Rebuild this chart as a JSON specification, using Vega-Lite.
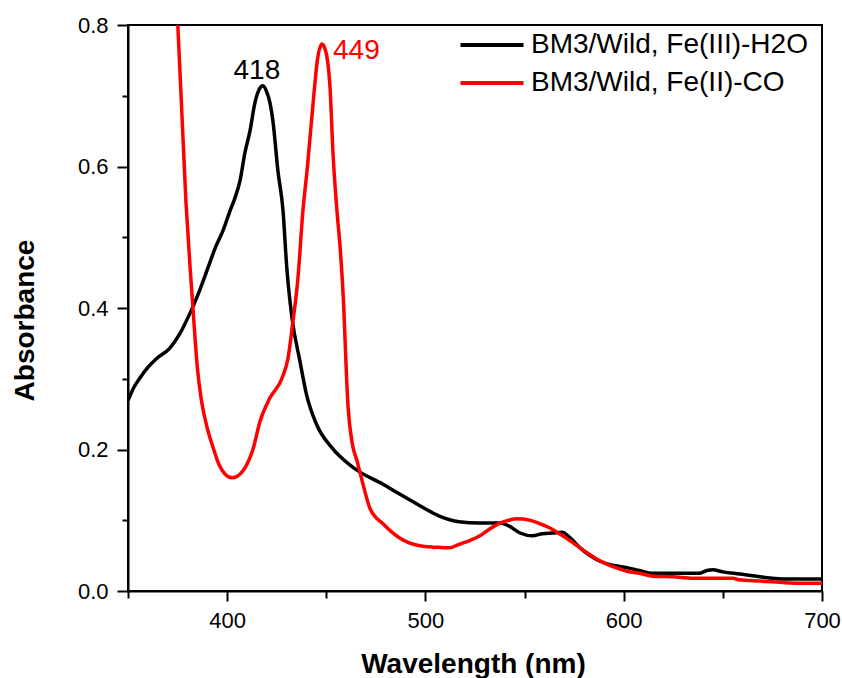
{
  "$schema": "https://vega.github.io/schema/vega-lite/v6.json",
  "width": 694,
  "height": 566,
  "autosize": {"type": "none"},
  "padding": {"left": 128, "top": 25, "right": 20, "bottom": 87},
  "background": "white",
  "config": {
    "view": {"stroke": "black", "strokeWidth": 2},
    "font": "Liberation Sans"
  },
  "datasets": {
    "spectra": [
      {"wl":350,"A":0.269,"series":"BM3/Wild, Fe(III)-H2O"},
      {"wl":353,"A":0.288,"series":"BM3/Wild, Fe(III)-H2O"},
      {"wl":356,"A":0.301,"series":"BM3/Wild, Fe(III)-H2O"},
      {"wl":360,"A":0.316,"series":"BM3/Wild, Fe(III)-H2O"},
      {"wl":364.6,"A":0.329,"series":"BM3/Wild, Fe(III)-H2O"},
      {"wl":371,"A":0.343,"series":"BM3/Wild, Fe(III)-H2O"},
      {"wl":376,"A":0.363,"series":"BM3/Wild, Fe(III)-H2O"},
      {"wl":381,"A":0.391,"series":"BM3/Wild, Fe(III)-H2O"},
      {"wl":386,"A":0.424,"series":"BM3/Wild, Fe(III)-H2O"},
      {"wl":391,"A":0.462,"series":"BM3/Wild, Fe(III)-H2O"},
      {"wl":394,"A":0.485,"series":"BM3/Wild, Fe(III)-H2O"},
      {"wl":398,"A":0.510,"series":"BM3/Wild, Fe(III)-H2O"},
      {"wl":401.4,"A":0.537,"series":"BM3/Wild, Fe(III)-H2O"},
      {"wl":404,"A":0.556,"series":"BM3/Wild, Fe(III)-H2O"},
      {"wl":406.5,"A":0.58,"series":"BM3/Wild, Fe(III)-H2O"},
      {"wl":409,"A":0.62,"series":"BM3/Wild, Fe(III)-H2O"},
      {"wl":411.5,"A":0.65,"series":"BM3/Wild, Fe(III)-H2O"},
      {"wl":414,"A":0.69,"series":"BM3/Wild, Fe(III)-H2O"},
      {"wl":416,"A":0.708,"series":"BM3/Wild, Fe(III)-H2O"},
      {"wl":418,"A":0.714,"series":"BM3/Wild, Fe(III)-H2O"},
      {"wl":420,"A":0.705,"series":"BM3/Wild, Fe(III)-H2O"},
      {"wl":421.6,"A":0.690,"series":"BM3/Wild, Fe(III)-H2O"},
      {"wl":423.1,"A":0.664,"series":"BM3/Wild, Fe(III)-H2O"},
      {"wl":425.6,"A":0.594,"series":"BM3/Wild, Fe(III)-H2O"},
      {"wl":428.2,"A":0.537,"series":"BM3/Wild, Fe(III)-H2O"},
      {"wl":430,"A":0.46,"series":"BM3/Wild, Fe(III)-H2O"},
      {"wl":432.7,"A":0.386,"series":"BM3/Wild, Fe(III)-H2O"},
      {"wl":436.7,"A":0.325,"series":"BM3/Wild, Fe(III)-H2O"},
      {"wl":440,"A":0.278,"series":"BM3/Wild, Fe(III)-H2O"},
      {"wl":445,"A":0.236,"series":"BM3/Wild, Fe(III)-H2O"},
      {"wl":453,"A":0.202,"series":"BM3/Wild, Fe(III)-H2O"},
      {"wl":462,"A":0.178,"series":"BM3/Wild, Fe(III)-H2O"},
      {"wl":467,"A":0.168,"series":"BM3/Wild, Fe(III)-H2O"},
      {"wl":478.6,"A":0.151,"series":"BM3/Wild, Fe(III)-H2O"},
      {"wl":487,"A":0.137,"series":"BM3/Wild, Fe(III)-H2O"},
      {"wl":495.7,"A":0.123,"series":"BM3/Wild, Fe(III)-H2O"},
      {"wl":507,"A":0.106,"series":"BM3/Wild, Fe(III)-H2O"},
      {"wl":517,"A":0.098,"series":"BM3/Wild, Fe(III)-H2O"},
      {"wl":527,"A":0.096,"series":"BM3/Wild, Fe(III)-H2O"},
      {"wl":537.6,"A":0.096,"series":"BM3/Wild, Fe(III)-H2O"},
      {"wl":542,"A":0.092,"series":"BM3/Wild, Fe(III)-H2O"},
      {"wl":547.7,"A":0.082,"series":"BM3/Wild, Fe(III)-H2O"},
      {"wl":554,"A":0.078,"series":"BM3/Wild, Fe(III)-H2O"},
      {"wl":559,"A":0.081,"series":"BM3/Wild, Fe(III)-H2O"},
      {"wl":564,"A":0.082,"series":"BM3/Wild, Fe(III)-H2O"},
      {"wl":569,"A":0.083,"series":"BM3/Wild, Fe(III)-H2O"},
      {"wl":573,"A":0.075,"series":"BM3/Wild, Fe(III)-H2O"},
      {"wl":578,"A":0.061,"series":"BM3/Wild, Fe(III)-H2O"},
      {"wl":583,"A":0.050,"series":"BM3/Wild, Fe(III)-H2O"},
      {"wl":588,"A":0.042,"series":"BM3/Wild, Fe(III)-H2O"},
      {"wl":595,"A":0.036,"series":"BM3/Wild, Fe(III)-H2O"},
      {"wl":601.6,"A":0.033,"series":"BM3/Wild, Fe(III)-H2O"},
      {"wl":608,"A":0.029,"series":"BM3/Wild, Fe(III)-H2O"},
      {"wl":614.8,"A":0.025,"series":"BM3/Wild, Fe(III)-H2O"},
      {"wl":625,"A":0.025,"series":"BM3/Wild, Fe(III)-H2O"},
      {"wl":638,"A":0.025,"series":"BM3/Wild, Fe(III)-H2O"},
      {"wl":642,"A":0.029,"series":"BM3/Wild, Fe(III)-H2O"},
      {"wl":645,"A":0.030,"series":"BM3/Wild, Fe(III)-H2O"},
      {"wl":650,"A":0.027,"series":"BM3/Wild, Fe(III)-H2O"},
      {"wl":658.6,"A":0.024,"series":"BM3/Wild, Fe(III)-H2O"},
      {"wl":664,"A":0.022,"series":"BM3/Wild, Fe(III)-H2O"},
      {"wl":668.7,"A":0.020,"series":"BM3/Wild, Fe(III)-H2O"},
      {"wl":675,"A":0.018,"series":"BM3/Wild, Fe(III)-H2O"},
      {"wl":680,"A":0.017,"series":"BM3/Wild, Fe(III)-H2O"},
      {"wl":690,"A":0.017,"series":"BM3/Wild, Fe(III)-H2O"},
      {"wl":700,"A":0.017,"series":"BM3/Wild, Fe(III)-H2O"},
      {"wl":374.3,"A":0.85,"series":"BM3/Wild, Fe(II)-CO"},
      {"wl":379.2,"A":0.551,"series":"BM3/Wild, Fe(II)-CO"},
      {"wl":381.5,"A":0.45,"series":"BM3/Wild, Fe(II)-CO"},
      {"wl":383.5,"A":0.37,"series":"BM3/Wild, Fe(II)-CO"},
      {"wl":385,"A":0.315,"series":"BM3/Wild, Fe(II)-CO"},
      {"wl":387,"A":0.270,"series":"BM3/Wild, Fe(II)-CO"},
      {"wl":390,"A":0.230,"series":"BM3/Wild, Fe(II)-CO"},
      {"wl":393,"A":0.202,"series":"BM3/Wild, Fe(II)-CO"},
      {"wl":396,"A":0.178,"series":"BM3/Wild, Fe(II)-CO"},
      {"wl":399,"A":0.165,"series":"BM3/Wild, Fe(II)-CO"},
      {"wl":402.4,"A":0.160,"series":"BM3/Wild, Fe(II)-CO"},
      {"wl":405,"A":0.162,"series":"BM3/Wild, Fe(II)-CO"},
      {"wl":408,"A":0.170,"series":"BM3/Wild, Fe(II)-CO"},
      {"wl":410.5,"A":0.182,"series":"BM3/Wild, Fe(II)-CO"},
      {"wl":413,"A":0.200,"series":"BM3/Wild, Fe(II)-CO"},
      {"wl":416.6,"A":0.240,"series":"BM3/Wild, Fe(II)-CO"},
      {"wl":421.6,"A":0.273,"series":"BM3/Wild, Fe(II)-CO"},
      {"wl":427.7,"A":0.301,"series":"BM3/Wild, Fe(II)-CO"},
      {"wl":430.7,"A":0.329,"series":"BM3/Wild, Fe(II)-CO"},
      {"wl":433,"A":0.377,"series":"BM3/Wild, Fe(II)-CO"},
      {"wl":435.7,"A":0.442,"series":"BM3/Wild, Fe(II)-CO"},
      {"wl":438.2,"A":0.537,"series":"BM3/Wild, Fe(II)-CO"},
      {"wl":440.3,"A":0.594,"series":"BM3/Wild, Fe(II)-CO"},
      {"wl":443.3,"A":0.688,"series":"BM3/Wild, Fe(II)-CO"},
      {"wl":445.5,"A":0.750,"series":"BM3/Wild, Fe(II)-CO"},
      {"wl":447.8,"A":0.773,"series":"BM3/Wild, Fe(II)-CO"},
      {"wl":449.5,"A":0.765,"series":"BM3/Wild, Fe(II)-CO"},
      {"wl":451.9,"A":0.711,"series":"BM3/Wild, Fe(II)-CO"},
      {"wl":453.4,"A":0.618,"series":"BM3/Wild, Fe(II)-CO"},
      {"wl":455.4,"A":0.537,"series":"BM3/Wild, Fe(II)-CO"},
      {"wl":457,"A":0.485,"series":"BM3/Wild, Fe(II)-CO"},
      {"wl":458.4,"A":0.424,"series":"BM3/Wild, Fe(II)-CO"},
      {"wl":461,"A":0.260,"series":"BM3/Wild, Fe(II)-CO"},
      {"wl":463,"A":0.210,"series":"BM3/Wild, Fe(II)-CO"},
      {"wl":465.5,"A":0.184,"series":"BM3/Wild, Fe(II)-CO"},
      {"wl":468.5,"A":0.151,"series":"BM3/Wild, Fe(II)-CO"},
      {"wl":472,"A":0.117,"series":"BM3/Wild, Fe(II)-CO"},
      {"wl":478.6,"A":0.095,"series":"BM3/Wild, Fe(II)-CO"},
      {"wl":487,"A":0.075,"series":"BM3/Wild, Fe(II)-CO"},
      {"wl":497,"A":0.064,"series":"BM3/Wild, Fe(II)-CO"},
      {"wl":505,"A":0.062,"series":"BM3/Wild, Fe(II)-CO"},
      {"wl":512,"A":0.061,"series":"BM3/Wild, Fe(II)-CO"},
      {"wl":517,"A":0.066,"series":"BM3/Wild, Fe(II)-CO"},
      {"wl":522,"A":0.071,"series":"BM3/Wild, Fe(II)-CO"},
      {"wl":527.5,"A":0.078,"series":"BM3/Wild, Fe(II)-CO"},
      {"wl":532,"A":0.087,"series":"BM3/Wild, Fe(II)-CO"},
      {"wl":537.6,"A":0.096,"series":"BM3/Wild, Fe(II)-CO"},
      {"wl":542,"A":0.100,"series":"BM3/Wild, Fe(II)-CO"},
      {"wl":546,"A":0.102,"series":"BM3/Wild, Fe(II)-CO"},
      {"wl":552.7,"A":0.100,"series":"BM3/Wild, Fe(II)-CO"},
      {"wl":557,"A":0.096,"series":"BM3/Wild, Fe(II)-CO"},
      {"wl":562.8,"A":0.089,"series":"BM3/Wild, Fe(II)-CO"},
      {"wl":567,"A":0.082,"series":"BM3/Wild, Fe(II)-CO"},
      {"wl":571,"A":0.075,"series":"BM3/Wild, Fe(II)-CO"},
      {"wl":576,"A":0.065,"series":"BM3/Wild, Fe(II)-CO"},
      {"wl":581.5,"A":0.054,"series":"BM3/Wild, Fe(II)-CO"},
      {"wl":586,"A":0.046,"series":"BM3/Wild, Fe(II)-CO"},
      {"wl":591.5,"A":0.038,"series":"BM3/Wild, Fe(II)-CO"},
      {"wl":596,"A":0.033,"series":"BM3/Wild, Fe(II)-CO"},
      {"wl":601.6,"A":0.028,"series":"BM3/Wild, Fe(II)-CO"},
      {"wl":608,"A":0.025,"series":"BM3/Wild, Fe(II)-CO"},
      {"wl":614.8,"A":0.021,"series":"BM3/Wild, Fe(II)-CO"},
      {"wl":625,"A":0.020,"series":"BM3/Wild, Fe(II)-CO"},
      {"wl":635,"A":0.018,"series":"BM3/Wild, Fe(II)-CO"},
      {"wl":645,"A":0.018,"series":"BM3/Wild, Fe(II)-CO"},
      {"wl":655,"A":0.018,"series":"BM3/Wild, Fe(II)-CO"},
      {"wl":658,"A":0.016,"series":"BM3/Wild, Fe(II)-CO"},
      {"wl":668.7,"A":0.014,"series":"BM3/Wild, Fe(II)-CO"},
      {"wl":680,"A":0.012,"series":"BM3/Wild, Fe(II)-CO"},
      {"wl":690,"A":0.011,"series":"BM3/Wild, Fe(II)-CO"},
      {"wl":700,"A":0.011,"series":"BM3/Wild, Fe(II)-CO"}
    ],
    "peaks": [
      {"wl":415,"A":0.724,"label":"418"},
      {"wl":453.4,"A":0.752,"label":"449"}
    ]
  },
  "layer": [
    {
      "data": {"name": "spectra"},
      "mark": {"type": "line", "strokeWidth": 3.5, "clip": true, "interpolate": "monotone"},
      "encoding": {
        "x": {
          "field": "wl", "type": "quantitative",
          "scale": {"domain": [350, 700], "nice": false, "zero": false},
          "axis": {
            "title": "Wavelength (nm)",
            "values": [350, 400, 450, 500, 550, 600, 650, 700],
            "labelExpr": "datum.value % 100 == 0 ? datum.value : ''",
            "tickSize": {"condition": {"test": "datum.value % 100 == 50", "value": 7}, "value": 10},
            "tickColor": "black", "tickWidth": 2,
            "domainColor": "black", "domainWidth": 2,
            "labelFontSize": 22, "labelColor": "black", "labelPadding": 9,
            "labelFont": "Liberation Sans", "labelFlush": false,
            "titleFontSize": 28, "titleFontWeight": "bold", "titleColor": "black",
            "titleFont": "Liberation Sans",
            "titleX": 345, "titleY": 81, "titleBaseline": "alphabetic", "titleAlign": "center",
            "grid": false
          }
        },
        "y": {
          "field": "A", "type": "quantitative",
          "scale": {"domain": [0, 0.8], "nice": false, "zero": false},
          "axis": {
            "title": "Absorbance",
            "values": [0, 0.1, 0.2, 0.3, 0.4, 0.5, 0.6, 0.7, 0.8],
            "labelExpr": "round(datum.value*10) % 2 == 0 ? format(datum.value, '.1f') : ''",
            "tickSize": {"condition": {"test": "round(datum.value*10) % 2 == 1", "value": 6}, "value": 11},
            "tickColor": "black", "tickWidth": 2,
            "domainColor": "black", "domainWidth": 2,
            "labelFontSize": 22, "labelColor": "black", "labelPadding": 9,
            "labelFont": "Liberation Sans", "labelFlush": false,
            "titleFontSize": 28, "titleFontWeight": "bold", "titleColor": "black",
            "titleFont": "Liberation Sans",
            "titleX": -95, "titleY": 295, "titleBaseline": "alphabetic", "titleAlign": "center", "titleAngle": -90,
            "grid": false
          }
        },
        "color": {
          "field": "series", "type": "nominal",
          "scale": {"domain": ["BM3/Wild, Fe(III)-H2O", "BM3/Wild, Fe(II)-CO"], "range": ["#000000", "#ff0000"]},
          "legend": {
            "title": null, "orient": "none", "legendX": 350, "legendY": 6,
            "symbolType": "M-3,0H3", "symbolSize": 441, "symbolStrokeWidth": 4,
            "labelFontSize": 28, "labelFont": "Liberation Sans", "labelColor": "black",
            "labelOffset": 25, "rowPadding": 10, "padding": 0, "labelLimit": 500
          }
        }
      }
    },
    {
      "data": {"name": "peaks"},
      "transform": [{"filter": "datum.label == '418'"}],
      "mark": {"type": "text", "fontSize": 28, "font": "Liberation Sans", "color": "black", "align": "center", "baseline": "alphabetic"},
      "encoding": {
        "x": {"field": "wl", "type": "quantitative"},
        "y": {"field": "A", "type": "quantitative"},
        "text": {"field": "label"}
      }
    },
    {
      "data": {"name": "peaks"},
      "transform": [{"filter": "datum.label == '449'"}],
      "mark": {"type": "text", "fontSize": 28, "font": "Liberation Sans", "color": "#ff0000", "align": "left", "baseline": "alphabetic"},
      "encoding": {
        "x": {"field": "wl", "type": "quantitative"},
        "y": {"field": "A", "type": "quantitative"},
        "text": {"field": "label"}
      }
    }
  ]
}
